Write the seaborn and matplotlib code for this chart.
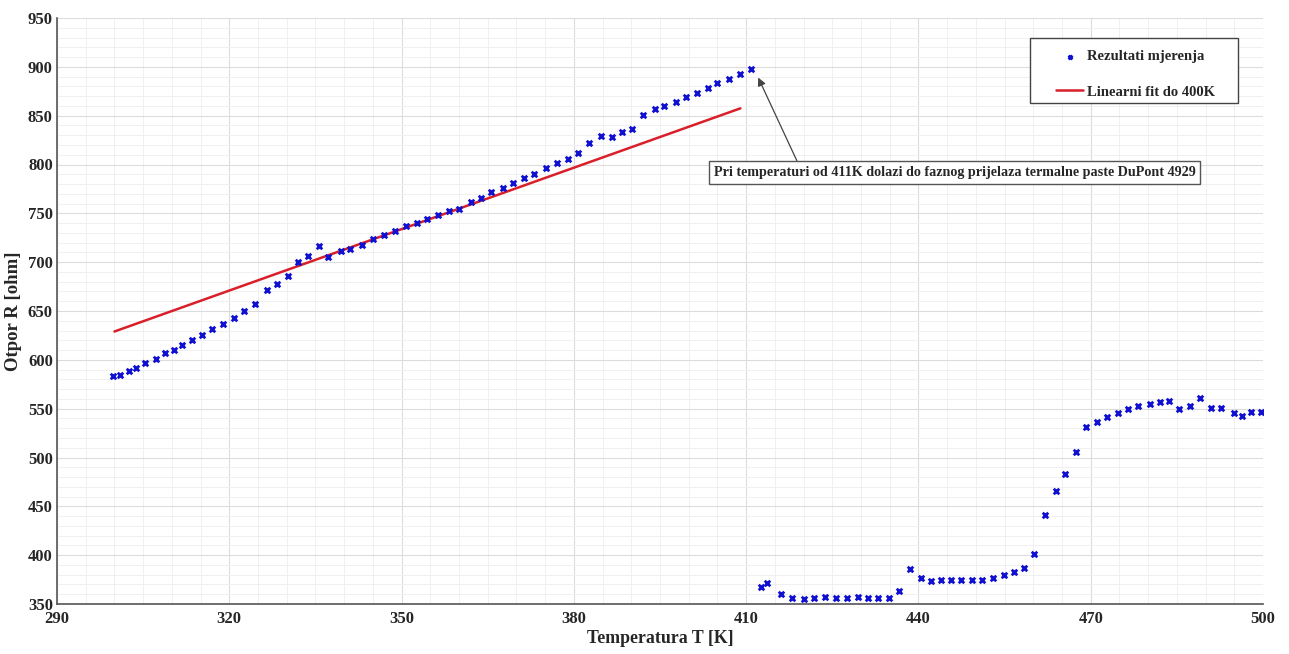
import matplotlib
matplotlib.use("Agg")
import matplotlib.pyplot as plt
import seaborn as sns
import pandas as pd
import numpy as np
from matplotlib.ticker import FixedLocator, MultipleLocator
from matplotlib.patches import Rectangle

# ---- data ----
temp_K = [299.8, 300.9, 302.5, 303.8, 305.4, 307.2, 308.8, 310.4, 311.8, 313.5,
          315.2, 317.0, 318.9, 320.8, 322.5, 324.5, 326.5, 328.3, 330.2, 331.9,
          333.7, 335.6, 337.2, 339.4, 341.0, 343.1, 345.1, 347.0, 348.9, 350.8,
          352.6, 354.4, 356.3, 358.3, 360.0, 362.1, 363.9, 365.6, 367.6, 369.4,
          371.3, 373.0, 375.1, 377.0, 378.9, 380.8, 382.7, 384.7, 386.6, 388.4,
          390.1, 392.1, 394.1, 395.7, 397.7, 399.6, 401.4, 403.4, 405.0, 407.0,
          409.0, 410.8, 412.6, 413.7, 416.0, 418.0, 420.0, 421.9, 423.7, 425.6,
          427.5, 429.4, 431.2, 433.0, 434.8, 436.6, 438.5, 440.4, 442.2, 443.9,
          445.7, 447.4, 449.3, 451.1, 453.0, 454.9, 456.6, 458.3, 460.1, 462.0,
          463.9, 465.6, 467.4, 469.2, 471.1, 472.8, 474.7, 476.5, 478.2, 480.4,
          482.1, 483.7, 485.4, 487.3, 489.1, 490.9, 492.6, 494.9, 496.4, 497.9,
          499.6]
resist_ohm = [583.5, 584.8, 588.3, 591.6, 596.5, 601.2, 606.7, 610.1, 614.9, 620.0,
              625.1, 631.6, 637.0, 642.5, 650.0, 657.2, 671.8, 677.7, 685.8, 699.9,
              706.3, 716.6, 705.0, 711.0, 713.0, 717.6, 723.7, 728.1, 732.2, 736.7,
              739.8, 743.9, 748.0, 752.1, 754.1, 761.6, 766.0, 771.5, 776.3, 781.1,
              786.2, 790.3, 796.7, 801.5, 805.9, 811.5, 821.7, 828.9, 828.5, 833.3,
              836.7, 850.4, 856.8, 860.2, 864.3, 869.1, 873.2, 878.6, 883.4, 887.9,
              892.7, 897.5, 367.1, 371.2, 360.3, 356.2, 355.5, 356.5, 357.2, 356.2,
              356.2, 357.2, 356.2, 356.2, 356.2, 363.0, 385.9, 376.3, 373.6, 374.3,
              374.9, 374.3, 374.3, 374.9, 377.0, 379.7, 383.1, 386.6, 401.5, 441.1,
              465.4, 482.8, 505.6, 531.6, 536.7, 541.5, 545.6, 549.7, 552.4, 555.1,
              557.2, 557.9, 549.7, 552.4, 561.2, 551.0, 550.4, 545.6, 542.2, 546.9,
              546.9]
fit_T = [300.0, 409.0]
fit_R = [629.0, 857.5]

x_ticks = [290, 320, 350, 380, 410, 440, 470, 500]
y_ticks = [350, 400, 450, 500, 550, 600, 650, 700, 750, 800, 850, 900, 950]

label_meas = "Rezultati mjerenja"
label_fit = "Linearni fit do 400K"
annot_text = "Pri temperaturi od 411K dolazi do faznog prijelaza termalne paste DuPont 4929"
xlabel = "Temperatura T [K]"
ylabel = "Otpor R [ohm]"

# ---- plotting ----
sns.set_style("white")
plt.rcParams['font.family'] = ['Liberation Serif', 'DejaVu Serif']
plt.rcParams['font.weight'] = 'bold'

fig = plt.figure(figsize=(12.89, 6.54), dpi=100)
ax = fig.add_axes([57/1289, 1 - 604/654, (1263-57)/1289, (604-18)/654])

df = pd.DataFrame({"T": temp_K, "R": resist_ohm})
dfit = pd.DataFrame({"T": fit_T, "R": fit_R})

sns.scatterplot(data=df, x="T", y="R", ax=ax, marker="x", s=16, color="#1010d0",
                linewidth=2.0, label=label_meas, zorder=3)
sns.lineplot(data=dfit, x="T", y="R", ax=ax, color="#d9202a", linewidth=1.8,
             label=label_fit, zorder=2)

ax.set_xlim(290, 500)
ax.set_ylim(350, 950)
ax.xaxis.set_major_locator(FixedLocator(x_ticks))
ax.xaxis.set_minor_locator(MultipleLocator(5))
ax.yaxis.set_major_locator(FixedLocator(y_ticks))
ax.yaxis.set_minor_locator(MultipleLocator(10))
ax.set_xticklabels([str(t) for t in x_ticks])
ax.set_yticklabels([str(t) for t in y_ticks])

ax.grid(which="major", color="#dcdcdc", linewidth=0.8)
ax.grid(which="minor", color="#f0f0f0", linewidth=0.7)
ax.set_axisbelow(True)

for s in ["top", "right"]:
    ax.spines[s].set_visible(False)
for s in ["left", "bottom"]:
    ax.spines[s].set_color("#555555")
    ax.spines[s].set_linewidth(1.2)

ax.tick_params(which="major", direction="in", length=9, width=1, color="#555555",
               labelsize=12)
ax.tick_params(which="minor", direction="in", length=5, width=0.8, color="#555555")
ax.tick_params(axis="x", pad=5)
ax.tick_params(axis="y", pad=3)
for lab in ax.get_xticklabels() + ax.get_yticklabels():
    lab.set_fontweight("bold")

ax.set_xlabel(xlabel, fontsize=12.8, fontweight="bold", labelpad=2)
ax.set_ylabel(ylabel, fontsize=13.5, fontweight="bold", labelpad=4)

# legend (frameless) with a manually placed box
leg = ax.legend(loc="upper left", bbox_to_anchor=(0.8284, 0.9450), frameon=False,
                prop={"weight": "bold", "size": 10.5}, borderpad=0,
                borderaxespad=0, labelspacing=1.5, handlelength=1.85,
                handletextpad=0.25, markerscale=0.7)
ax.add_patch(Rectangle((0.8068, 0.8549), 0.9793 - 0.8068, 0.9659 - 0.8549,
                       transform=ax.transAxes, fill=True, fc="white",
                       ec="#444444", lw=1.0, zorder=4))
leg.set_zorder(6)

# annotation text box and arrow
ax.text(446.3, 791.5, annot_text, ha="center", va="center", fontsize=10.2,
        fontweight="bold", zorder=6,
        bbox=dict(boxstyle="square,pad=0.35", fc="white", ec="#555555", lw=1.0))
ax.annotate("", xy=(412.1, 889.0), xytext=(418.9, 803.0),
            arrowprops=dict(arrowstyle="-|>", color="#444444", lw=0.9,
                            mutation_scale=12, shrinkA=0, shrinkB=0),
            zorder=5)

fig.savefig("out.png", dpi=100)
